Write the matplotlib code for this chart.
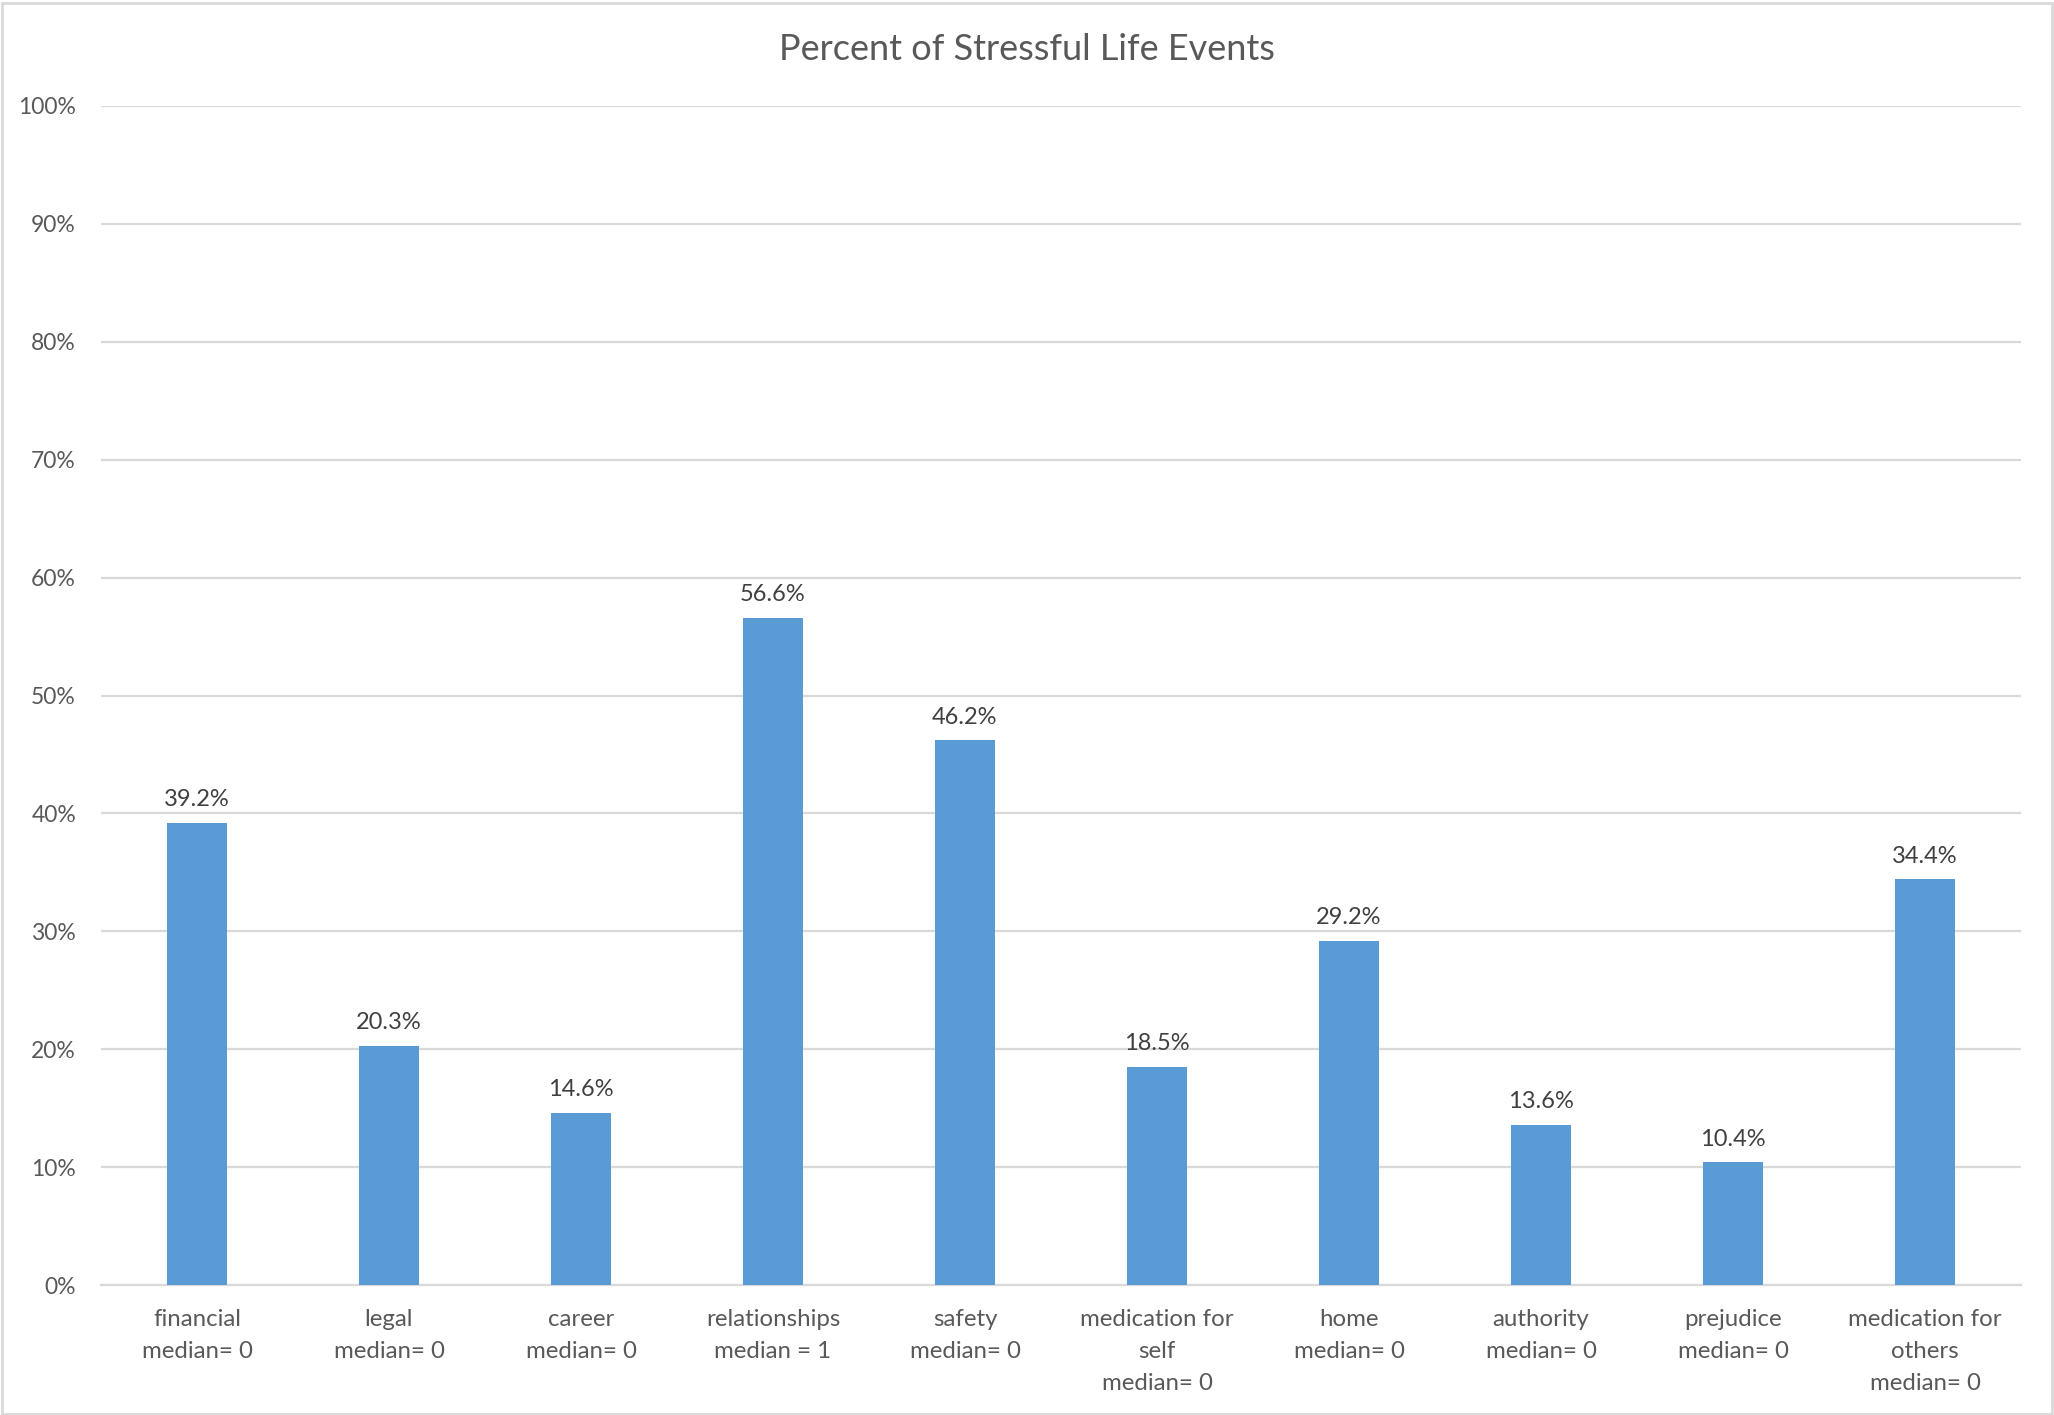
import numpy as np
import matplotlib
matplotlib.use("Agg")
import matplotlib.pyplot as plt
from matplotlib.patches import Rectangle
from matplotlib.ticker import FuncFormatter

# data
categories = ["financial\nmedian= 0", "legal\nmedian= 0", "career\nmedian= 0",
              "relationships\nmedian = 1", "safety\nmedian= 0",
              "medication for\nself\nmedian= 0", "home\nmedian= 0",
              "authority\nmedian= 0", "prejudice\nmedian= 0",
              "medication for\nothers\nmedian= 0"]
percents = [39.2, 20.3, 14.6, 56.6, 46.2, 18.5, 29.2, 13.6, 10.4, 34.4]
yticks = [0, 10, 20, 30, 40, 50, 60, 70, 80, 90, 100]

plt.rcParams['font.family'] = ['Lato', 'DejaVu Sans']

W, H = 2054, 1415
fig = plt.figure(figsize=(W / 100, H / 100), dpi=100)
# plot area in pixels: x 101..2021, y 106..1285
ax = fig.add_axes([101 / W, 1 - 1285 / H, (2021 - 101) / W, (1285 - 106) / H])

x = np.arange(len(categories))
bars = ax.bar(x, percents, width=0.31, color="#5B9BD5", zorder=3)

for xi, v in zip(x, percents):
    ax.annotate(f"{v:.1f}%", (xi, v), xytext=(0, 9), textcoords="offset points",
                ha="center", va="bottom", fontsize=17, color="#404040")

ax.set_xlim(-0.5, len(categories) - 0.5)
ax.set_ylim(0, 100)
ax.set_yticks(yticks)
ax.yaxis.set_major_formatter(FuncFormatter(lambda v, p: f"{v:.0f}%"))
ax.grid(axis="y", color="#D9D9D9", linewidth=1.6, zorder=0)
for s in ["top", "right", "left"]:
    ax.spines[s].set_visible(False)
ax.spines["bottom"].set_color("#D9D9D9")
ax.spines["bottom"].set_linewidth(1.6)
ax.tick_params(axis="both", length=0, labelcolor="#595959")
ax.tick_params(axis="y", pad=18, labelsize=16.5)
ax.tick_params(axis="x", pad=17, labelsize=17.3)
ax.set_xticks(x)
ax.set_xticklabels(categories, linespacing=1.65)

fig.text(0.5, 1 - 49 / H, "Percent of Stressful Life Events", ha="center", va="center",
         fontsize=26, color="#595959")

# chart border
fig.patches.append(Rectangle((0.001, 0.001), 0.998, 0.997, transform=fig.transFigure,
                             fill=False, edgecolor="#D9D9D9", linewidth=2))

fig.savefig("out.png", dpi=100)
